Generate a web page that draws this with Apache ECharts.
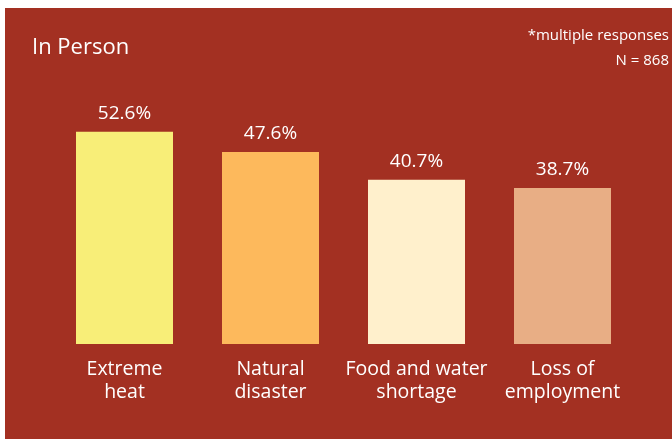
<!DOCTYPE html>
<html><head><meta charset="utf-8">
<script src="https://cdn.jsdelivr.net/npm/echarts@6/dist/echarts.min.js"></script>
<style>html,body{margin:0;padding:0;background:#fff}#c{width:672px;height:439px}</style>
</head><body><div id="c"></div>
<script>
const categories = ['Extreme\nheat', 'Natural\ndisaster', 'Food and water\nshortage', 'Loss of\nemployment'];
const values = [52.6, 47.6, 40.7, 38.7];
const colors = ['#F8EE78', '#FDB95C', '#FFF0CC', '#E8AE85'];
const font = 'Open Sans';
const chart = echarts.init(document.getElementById('c'));
chart.setOption({
  animation: false,
  backgroundColor: '#ffffff',
  graphic: [
    {type: 'rect', z: -10, shape: {x: 5, y: 8, width: 680, height: 440}, style: {fill: '#A33022'}},
    {type: 'text', left: 32, top: 37, style: {text: 'In Person', fill: '#fff', font: '500 22px "Open Sans"'}},
    {type: 'text', right: 3, top: 28, style: {text: '*multiple responses', fill: '#fff', font: '15px "Open Sans"', textAlign: 'right'}},
    {type: 'text', right: 3, top: 53, style: {text: 'N = 868', fill: '#fff', font: '15px "Open Sans"', textAlign: 'right'}}
  ],
  grid: {left: 51.5, right: 36.5, top: 102, bottom: 95},
  xAxis: {
    type: 'category', data: categories,
    axisLine: {show: false}, axisTick: {show: false},
    axisLabel: {color: '#fff', fontSize: 19.5, fontFamily: font, lineHeight: 23, margin: 14, interval: 0}
  },
  yAxis: {type: 'value', min: 0, max: 60, show: false, splitLine: {show: false}},
  series: [{
    type: 'bar', barWidth: 97,
    data: values.map((v, i) => ({value: v, itemStyle: {color: colors[i]}})),
    label: {show: true, position: 'top', distance: 9, color: '#fff', fontSize: 19, fontFamily: font, formatter: p => p.value.toFixed(1) + '%'}
  }]
});
</script></body></html>
